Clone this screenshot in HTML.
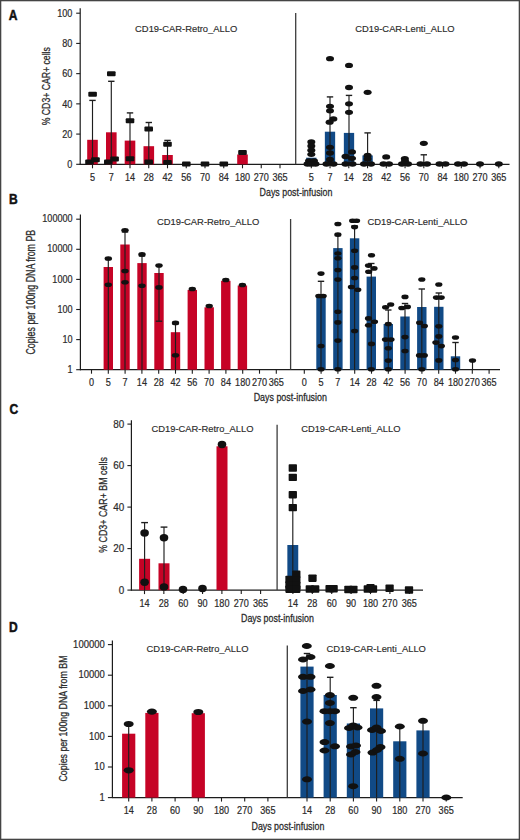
<!DOCTYPE html>
<html><head><meta charset="utf-8"><title>Figure</title>
<style>
html,body{margin:0;padding:0;background:#fff;}
body{width:520px;height:840px;overflow:hidden;}
svg{display:block;}
text{font-family:"Liberation Sans", sans-serif;}
</style></head>
<body>
<svg width="520" height="840" viewBox="0 0 520 840">
<rect x="0" y="0" width="520" height="840" fill="#fff"/>
<rect x="0.65" y="0.65" width="518.7" height="838.7" fill="none" stroke="#444" stroke-width="1.3"/>
<text x="8.80" y="19.80" font-size="14.5" text-anchor="start" font-weight="bold" fill="#111" textLength="8.7" lengthAdjust="spacingAndGlyphs" stroke="#111" stroke-width="0.5">A</text>
<line x1="80.20" y1="8.20" x2="80.20" y2="164.80" stroke="#1c1c1c" stroke-width="1.2"/>
<line x1="76.20" y1="164.30" x2="80.20" y2="164.30" stroke="#1c1c1c" stroke-width="1.1"/>
<text transform="translate(72.40,168.10) scale(0.91,1)" x="0" y="0" font-size="10.0" text-anchor="end" font-weight="normal" fill="#2a2a2a" stroke="#2a2a2a" stroke-width="0.2">0</text>
<line x1="76.20" y1="134.08" x2="80.20" y2="134.08" stroke="#1c1c1c" stroke-width="1.1"/>
<text transform="translate(72.40,137.88) scale(0.91,1)" x="0" y="0" font-size="10.0" text-anchor="end" font-weight="normal" fill="#2a2a2a" stroke="#2a2a2a" stroke-width="0.2">20</text>
<line x1="76.20" y1="103.86" x2="80.20" y2="103.86" stroke="#1c1c1c" stroke-width="1.1"/>
<text transform="translate(72.40,107.66) scale(0.91,1)" x="0" y="0" font-size="10.0" text-anchor="end" font-weight="normal" fill="#2a2a2a" stroke="#2a2a2a" stroke-width="0.2">40</text>
<line x1="76.20" y1="73.64" x2="80.20" y2="73.64" stroke="#1c1c1c" stroke-width="1.1"/>
<text transform="translate(72.40,77.44) scale(0.91,1)" x="0" y="0" font-size="10.0" text-anchor="end" font-weight="normal" fill="#2a2a2a" stroke="#2a2a2a" stroke-width="0.2">60</text>
<line x1="76.20" y1="43.42" x2="80.20" y2="43.42" stroke="#1c1c1c" stroke-width="1.1"/>
<text transform="translate(72.40,47.22) scale(0.91,1)" x="0" y="0" font-size="10.0" text-anchor="end" font-weight="normal" fill="#2a2a2a" stroke="#2a2a2a" stroke-width="0.2">80</text>
<line x1="76.20" y1="13.20" x2="80.20" y2="13.20" stroke="#1c1c1c" stroke-width="1.1"/>
<text transform="translate(72.40,17.00) scale(0.91,1)" x="0" y="0" font-size="10.0" text-anchor="end" font-weight="normal" fill="#2a2a2a" stroke="#2a2a2a" stroke-width="0.2">100</text>
<text transform="translate(49.60,86.20) rotate(-90)" x="0" y="0" font-size="11.3" text-anchor="middle" fill="#2a2a2a" textLength="78.2" lengthAdjust="spacingAndGlyphs" stroke="#2a2a2a" stroke-width="0.28">% CD3+ CAR+ cells</text>
<line x1="79.70" y1="164.30" x2="509.50" y2="164.30" stroke="#1c1c1c" stroke-width="1.2"/>
<line x1="92.50" y1="164.30" x2="92.50" y2="168.30" stroke="#1c1c1c" stroke-width="1.1"/>
<text transform="translate(92.50,181.30) scale(0.91,1)" x="0" y="0" font-size="10.0" text-anchor="middle" font-weight="normal" fill="#2a2a2a" stroke="#2a2a2a" stroke-width="0.2">5</text>
<line x1="111.25" y1="164.30" x2="111.25" y2="168.30" stroke="#1c1c1c" stroke-width="1.1"/>
<text transform="translate(111.25,181.30) scale(0.91,1)" x="0" y="0" font-size="10.0" text-anchor="middle" font-weight="normal" fill="#2a2a2a" stroke="#2a2a2a" stroke-width="0.2">7</text>
<line x1="130.00" y1="164.30" x2="130.00" y2="168.30" stroke="#1c1c1c" stroke-width="1.1"/>
<text transform="translate(130.00,181.30) scale(0.91,1)" x="0" y="0" font-size="10.0" text-anchor="middle" font-weight="normal" fill="#2a2a2a" stroke="#2a2a2a" stroke-width="0.2">14</text>
<line x1="148.75" y1="164.30" x2="148.75" y2="168.30" stroke="#1c1c1c" stroke-width="1.1"/>
<text transform="translate(148.75,181.30) scale(0.91,1)" x="0" y="0" font-size="10.0" text-anchor="middle" font-weight="normal" fill="#2a2a2a" stroke="#2a2a2a" stroke-width="0.2">28</text>
<line x1="167.50" y1="164.30" x2="167.50" y2="168.30" stroke="#1c1c1c" stroke-width="1.1"/>
<text transform="translate(167.50,181.30) scale(0.91,1)" x="0" y="0" font-size="10.0" text-anchor="middle" font-weight="normal" fill="#2a2a2a" stroke="#2a2a2a" stroke-width="0.2">42</text>
<line x1="186.25" y1="164.30" x2="186.25" y2="168.30" stroke="#1c1c1c" stroke-width="1.1"/>
<text transform="translate(186.25,181.30) scale(0.91,1)" x="0" y="0" font-size="10.0" text-anchor="middle" font-weight="normal" fill="#2a2a2a" stroke="#2a2a2a" stroke-width="0.2">56</text>
<line x1="205.00" y1="164.30" x2="205.00" y2="168.30" stroke="#1c1c1c" stroke-width="1.1"/>
<text transform="translate(205.00,181.30) scale(0.91,1)" x="0" y="0" font-size="10.0" text-anchor="middle" font-weight="normal" fill="#2a2a2a" stroke="#2a2a2a" stroke-width="0.2">70</text>
<line x1="223.75" y1="164.30" x2="223.75" y2="168.30" stroke="#1c1c1c" stroke-width="1.1"/>
<text transform="translate(223.75,181.30) scale(0.91,1)" x="0" y="0" font-size="10.0" text-anchor="middle" font-weight="normal" fill="#2a2a2a" stroke="#2a2a2a" stroke-width="0.2">84</text>
<line x1="242.50" y1="164.30" x2="242.50" y2="168.30" stroke="#1c1c1c" stroke-width="1.1"/>
<text transform="translate(242.50,181.30) scale(0.91,1)" x="0" y="0" font-size="10.0" text-anchor="middle" font-weight="normal" fill="#2a2a2a" stroke="#2a2a2a" stroke-width="0.2">180</text>
<line x1="261.25" y1="164.30" x2="261.25" y2="168.30" stroke="#1c1c1c" stroke-width="1.1"/>
<text transform="translate(261.25,181.30) scale(0.91,1)" x="0" y="0" font-size="10.0" text-anchor="middle" font-weight="normal" fill="#2a2a2a" stroke="#2a2a2a" stroke-width="0.2">270</text>
<line x1="280.00" y1="164.30" x2="280.00" y2="168.30" stroke="#1c1c1c" stroke-width="1.1"/>
<text transform="translate(280.00,181.30) scale(0.91,1)" x="0" y="0" font-size="10.0" text-anchor="middle" font-weight="normal" fill="#2a2a2a" stroke="#2a2a2a" stroke-width="0.2">365</text>
<line x1="311.30" y1="164.30" x2="311.30" y2="168.30" stroke="#1c1c1c" stroke-width="1.1"/>
<text transform="translate(311.30,181.30) scale(0.91,1)" x="0" y="0" font-size="10.0" text-anchor="middle" font-weight="normal" fill="#2a2a2a" stroke="#2a2a2a" stroke-width="0.2">5</text>
<line x1="330.05" y1="164.30" x2="330.05" y2="168.30" stroke="#1c1c1c" stroke-width="1.1"/>
<text transform="translate(330.05,181.30) scale(0.91,1)" x="0" y="0" font-size="10.0" text-anchor="middle" font-weight="normal" fill="#2a2a2a" stroke="#2a2a2a" stroke-width="0.2">7</text>
<line x1="348.80" y1="164.30" x2="348.80" y2="168.30" stroke="#1c1c1c" stroke-width="1.1"/>
<text transform="translate(348.80,181.30) scale(0.91,1)" x="0" y="0" font-size="10.0" text-anchor="middle" font-weight="normal" fill="#2a2a2a" stroke="#2a2a2a" stroke-width="0.2">14</text>
<line x1="367.55" y1="164.30" x2="367.55" y2="168.30" stroke="#1c1c1c" stroke-width="1.1"/>
<text transform="translate(367.55,181.30) scale(0.91,1)" x="0" y="0" font-size="10.0" text-anchor="middle" font-weight="normal" fill="#2a2a2a" stroke="#2a2a2a" stroke-width="0.2">28</text>
<line x1="386.30" y1="164.30" x2="386.30" y2="168.30" stroke="#1c1c1c" stroke-width="1.1"/>
<text transform="translate(386.30,181.30) scale(0.91,1)" x="0" y="0" font-size="10.0" text-anchor="middle" font-weight="normal" fill="#2a2a2a" stroke="#2a2a2a" stroke-width="0.2">42</text>
<line x1="405.05" y1="164.30" x2="405.05" y2="168.30" stroke="#1c1c1c" stroke-width="1.1"/>
<text transform="translate(405.05,181.30) scale(0.91,1)" x="0" y="0" font-size="10.0" text-anchor="middle" font-weight="normal" fill="#2a2a2a" stroke="#2a2a2a" stroke-width="0.2">56</text>
<line x1="423.80" y1="164.30" x2="423.80" y2="168.30" stroke="#1c1c1c" stroke-width="1.1"/>
<text transform="translate(423.80,181.30) scale(0.91,1)" x="0" y="0" font-size="10.0" text-anchor="middle" font-weight="normal" fill="#2a2a2a" stroke="#2a2a2a" stroke-width="0.2">70</text>
<line x1="442.55" y1="164.30" x2="442.55" y2="168.30" stroke="#1c1c1c" stroke-width="1.1"/>
<text transform="translate(442.55,181.30) scale(0.91,1)" x="0" y="0" font-size="10.0" text-anchor="middle" font-weight="normal" fill="#2a2a2a" stroke="#2a2a2a" stroke-width="0.2">84</text>
<line x1="461.30" y1="164.30" x2="461.30" y2="168.30" stroke="#1c1c1c" stroke-width="1.1"/>
<text transform="translate(461.30,181.30) scale(0.91,1)" x="0" y="0" font-size="10.0" text-anchor="middle" font-weight="normal" fill="#2a2a2a" stroke="#2a2a2a" stroke-width="0.2">180</text>
<line x1="480.05" y1="164.30" x2="480.05" y2="168.30" stroke="#1c1c1c" stroke-width="1.1"/>
<text transform="translate(480.05,181.30) scale(0.91,1)" x="0" y="0" font-size="10.0" text-anchor="middle" font-weight="normal" fill="#2a2a2a" stroke="#2a2a2a" stroke-width="0.2">270</text>
<line x1="498.80" y1="164.30" x2="498.80" y2="168.30" stroke="#1c1c1c" stroke-width="1.1"/>
<text transform="translate(498.80,181.30) scale(0.91,1)" x="0" y="0" font-size="10.0" text-anchor="middle" font-weight="normal" fill="#2a2a2a" stroke="#2a2a2a" stroke-width="0.2">365</text>
<line x1="295.70" y1="13.00" x2="295.70" y2="164.30" stroke="#3c3c3c" stroke-width="1.3"/>
<text x="186.20" y="32.30" font-size="9.7" text-anchor="middle" font-weight="normal" fill="#2a2a2a" textLength="102.2" lengthAdjust="spacingAndGlyphs" stroke="#2a2a2a" stroke-width="0.15">CD19-CAR-Retro_ALLO</text>
<text x="405.00" y="32.30" font-size="9.7" text-anchor="middle" font-weight="normal" fill="#2a2a2a" textLength="99.3" lengthAdjust="spacingAndGlyphs" stroke="#2a2a2a" stroke-width="0.15">CD19-CAR-Lenti_ALLO</text>
<text x="296.00" y="195.90" font-size="11.4" text-anchor="middle" font-weight="normal" fill="#2a2a2a" textLength="72.8" lengthAdjust="spacingAndGlyphs" stroke="#2a2a2a" stroke-width="0.28">Days post-infusion</text>
<rect x="87.20" y="139.80" width="10.60" height="24.50" fill="#c60326"/>
<rect x="106.00" y="132.30" width="10.60" height="32.00" fill="#c60326"/>
<rect x="124.70" y="140.60" width="10.60" height="23.70" fill="#c60326"/>
<rect x="143.50" y="146.20" width="10.60" height="18.10" fill="#c60326"/>
<rect x="162.20" y="155.00" width="10.60" height="9.30" fill="#c60326"/>
<rect x="237.20" y="154.50" width="10.60" height="9.80" fill="#c60326"/>
<line x1="92.50" y1="100.40" x2="92.50" y2="164.30" stroke="#1e1e1e" stroke-width="1.15"/>
<line x1="89.30" y1="100.40" x2="95.70" y2="100.40" stroke="#1e1e1e" stroke-width="1.38"/>
<line x1="111.30" y1="81.30" x2="111.30" y2="164.30" stroke="#1e1e1e" stroke-width="1.15"/>
<line x1="108.10" y1="81.30" x2="114.50" y2="81.30" stroke="#1e1e1e" stroke-width="1.38"/>
<line x1="130.00" y1="112.90" x2="130.00" y2="164.30" stroke="#1e1e1e" stroke-width="1.15"/>
<line x1="126.80" y1="112.90" x2="133.20" y2="112.90" stroke="#1e1e1e" stroke-width="1.38"/>
<line x1="148.80" y1="122.50" x2="148.80" y2="164.30" stroke="#1e1e1e" stroke-width="1.15"/>
<line x1="145.60" y1="122.50" x2="152.00" y2="122.50" stroke="#1e1e1e" stroke-width="1.38"/>
<line x1="167.50" y1="140.40" x2="167.50" y2="164.30" stroke="#1e1e1e" stroke-width="1.15"/>
<line x1="164.30" y1="140.40" x2="170.70" y2="140.40" stroke="#1e1e1e" stroke-width="1.38"/>
<rect x="88.30" y="91.80" width="8.6" height="5.0" rx="1.0" fill="#111"/>
<rect x="85.20" y="159.50" width="8.6" height="5.0" rx="1.0" fill="#111"/>
<rect x="91.20" y="157.30" width="8.6" height="5.0" rx="1.0" fill="#111"/>
<rect x="107.00" y="71.30" width="8.6" height="5.0" rx="1.0" fill="#111"/>
<rect x="104.00" y="159.50" width="8.6" height="5.0" rx="1.0" fill="#111"/>
<rect x="110.30" y="156.40" width="8.6" height="5.0" rx="1.0" fill="#111"/>
<rect x="125.70" y="118.30" width="8.6" height="5.0" rx="1.0" fill="#111"/>
<rect x="125.70" y="156.20" width="8.6" height="5.0" rx="1.0" fill="#111"/>
<rect x="144.40" y="126.50" width="8.6" height="5.0" rx="1.0" fill="#111"/>
<rect x="144.40" y="159.50" width="8.6" height="5.0" rx="1.0" fill="#111"/>
<rect x="163.20" y="141.70" width="8.6" height="5.0" rx="1.0" fill="#111"/>
<rect x="163.20" y="160.00" width="8.6" height="5.0" rx="1.0" fill="#111"/>
<rect x="182.00" y="161.50" width="8.6" height="5.0" rx="1.0" fill="#111"/>
<rect x="200.70" y="161.50" width="8.6" height="5.0" rx="1.0" fill="#111"/>
<rect x="219.50" y="161.50" width="8.6" height="5.0" rx="1.0" fill="#111"/>
<rect x="238.20" y="150.10" width="8.6" height="5.0" rx="1.0" fill="#111"/>
<rect x="306.15" y="157.70" width="10.30" height="6.60" fill="#114a86"/>
<rect x="324.85" y="131.70" width="10.30" height="32.60" fill="#114a86"/>
<rect x="343.85" y="132.90" width="10.30" height="31.40" fill="#114a86"/>
<rect x="362.45" y="155.40" width="10.30" height="8.90" fill="#114a86"/>
<rect x="418.65" y="162.00" width="10.30" height="2.30" fill="#114a86"/>
<line x1="330.00" y1="96.90" x2="330.00" y2="164.30" stroke="#1e1e1e" stroke-width="1.15"/>
<line x1="326.80" y1="96.90" x2="333.20" y2="96.90" stroke="#1e1e1e" stroke-width="1.38"/>
<line x1="349.00" y1="95.40" x2="349.00" y2="164.30" stroke="#1e1e1e" stroke-width="1.15"/>
<line x1="345.80" y1="95.40" x2="352.20" y2="95.40" stroke="#1e1e1e" stroke-width="1.38"/>
<line x1="367.60" y1="132.90" x2="367.60" y2="164.30" stroke="#1e1e1e" stroke-width="1.15"/>
<line x1="364.40" y1="132.90" x2="370.80" y2="132.90" stroke="#1e1e1e" stroke-width="1.38"/>
<line x1="423.80" y1="154.80" x2="423.80" y2="164.30" stroke="#1e1e1e" stroke-width="1.15"/>
<line x1="420.60" y1="154.80" x2="427.00" y2="154.80" stroke="#1e1e1e" stroke-width="1.38"/>
<ellipse cx="311.30" cy="142.00" rx="4.0" ry="2.65" fill="#111"/>
<ellipse cx="311.30" cy="146.00" rx="4.0" ry="2.65" fill="#111"/>
<ellipse cx="311.30" cy="150.20" rx="4.0" ry="2.65" fill="#111"/>
<ellipse cx="311.30" cy="154.30" rx="4.0" ry="2.65" fill="#111"/>
<ellipse cx="309.00" cy="160.80" rx="4.0" ry="2.65" fill="#111"/>
<ellipse cx="314.00" cy="160.80" rx="4.0" ry="2.65" fill="#111"/>
<ellipse cx="307.50" cy="164.00" rx="4.0" ry="2.65" fill="#111"/>
<ellipse cx="311.30" cy="164.00" rx="4.0" ry="2.65" fill="#111"/>
<ellipse cx="315.50" cy="164.00" rx="4.0" ry="2.65" fill="#111"/>
<ellipse cx="330.00" cy="58.70" rx="4.0" ry="2.65" fill="#111"/>
<ellipse cx="330.00" cy="106.30" rx="4.0" ry="2.65" fill="#111"/>
<ellipse cx="330.00" cy="110.80" rx="4.0" ry="2.65" fill="#111"/>
<ellipse cx="333.40" cy="119.00" rx="4.0" ry="2.65" fill="#111"/>
<ellipse cx="329.60" cy="122.20" rx="4.0" ry="2.65" fill="#111"/>
<ellipse cx="330.00" cy="147.30" rx="4.0" ry="2.65" fill="#111"/>
<ellipse cx="330.00" cy="153.00" rx="4.0" ry="2.65" fill="#111"/>
<ellipse cx="330.00" cy="159.40" rx="4.0" ry="2.65" fill="#111"/>
<ellipse cx="326.50" cy="164.00" rx="4.0" ry="2.65" fill="#111"/>
<ellipse cx="333.50" cy="164.00" rx="4.0" ry="2.65" fill="#111"/>
<ellipse cx="349.00" cy="65.40" rx="4.0" ry="2.65" fill="#111"/>
<ellipse cx="349.00" cy="87.50" rx="4.0" ry="2.65" fill="#111"/>
<ellipse cx="349.00" cy="103.80" rx="4.0" ry="2.65" fill="#111"/>
<ellipse cx="349.00" cy="112.30" rx="4.0" ry="2.65" fill="#111"/>
<ellipse cx="352.00" cy="151.90" rx="4.0" ry="2.65" fill="#111"/>
<ellipse cx="345.50" cy="156.50" rx="4.0" ry="2.65" fill="#111"/>
<ellipse cx="352.00" cy="158.30" rx="4.0" ry="2.65" fill="#111"/>
<ellipse cx="345.50" cy="164.00" rx="4.0" ry="2.65" fill="#111"/>
<ellipse cx="352.50" cy="164.00" rx="4.0" ry="2.65" fill="#111"/>
<ellipse cx="367.60" cy="92.30" rx="4.0" ry="2.65" fill="#111"/>
<ellipse cx="367.60" cy="155.40" rx="4.0" ry="2.65" fill="#111"/>
<ellipse cx="367.60" cy="159.00" rx="4.0" ry="2.65" fill="#111"/>
<ellipse cx="364.00" cy="164.00" rx="4.0" ry="2.65" fill="#111"/>
<ellipse cx="371.00" cy="164.00" rx="4.0" ry="2.65" fill="#111"/>
<ellipse cx="386.20" cy="156.90" rx="4.0" ry="2.65" fill="#111"/>
<ellipse cx="383.50" cy="164.00" rx="4.0" ry="2.65" fill="#111"/>
<ellipse cx="389.00" cy="164.00" rx="4.0" ry="2.65" fill="#111"/>
<ellipse cx="404.80" cy="158.60" rx="4.0" ry="2.65" fill="#111"/>
<ellipse cx="402.00" cy="164.00" rx="4.0" ry="2.65" fill="#111"/>
<ellipse cx="408.00" cy="164.00" rx="4.0" ry="2.65" fill="#111"/>
<ellipse cx="405.00" cy="161.00" rx="4.0" ry="2.65" fill="#111"/>
<ellipse cx="423.80" cy="143.30" rx="4.0" ry="2.65" fill="#111"/>
<ellipse cx="420.50" cy="164.00" rx="4.0" ry="2.65" fill="#111"/>
<ellipse cx="427.00" cy="164.00" rx="4.0" ry="2.65" fill="#111"/>
<ellipse cx="439.50" cy="164.00" rx="4.0" ry="2.65" fill="#111"/>
<ellipse cx="445.50" cy="164.00" rx="4.0" ry="2.65" fill="#111"/>
<ellipse cx="458.00" cy="164.00" rx="4.0" ry="2.65" fill="#111"/>
<ellipse cx="464.00" cy="164.00" rx="4.0" ry="2.65" fill="#111"/>
<ellipse cx="480.00" cy="164.00" rx="4.0" ry="2.65" fill="#111"/>
<ellipse cx="498.80" cy="164.00" rx="4.0" ry="2.65" fill="#111"/>
<text x="9.00" y="204.40" font-size="14.5" text-anchor="start" font-weight="bold" fill="#111" textLength="8.7" lengthAdjust="spacingAndGlyphs" stroke="#111" stroke-width="0.5">B</text>
<line x1="80.40" y1="214.60" x2="80.40" y2="370.20" stroke="#1c1c1c" stroke-width="1.2"/>
<line x1="76.20" y1="369.70" x2="80.40" y2="369.70" stroke="#1c1c1c" stroke-width="1.1"/>
<text transform="translate(72.60,372.80) scale(0.91,1)" x="0" y="0" font-size="10.0" text-anchor="end" font-weight="normal" fill="#2a2a2a" stroke="#2a2a2a" stroke-width="0.2">1</text>
<line x1="76.20" y1="339.60" x2="80.40" y2="339.60" stroke="#1c1c1c" stroke-width="1.1"/>
<text transform="translate(72.60,342.70) scale(0.91,1)" x="0" y="0" font-size="10.0" text-anchor="end" font-weight="normal" fill="#2a2a2a" stroke="#2a2a2a" stroke-width="0.2">10</text>
<line x1="76.20" y1="309.50" x2="80.40" y2="309.50" stroke="#1c1c1c" stroke-width="1.1"/>
<text transform="translate(72.60,312.60) scale(0.91,1)" x="0" y="0" font-size="10.0" text-anchor="end" font-weight="normal" fill="#2a2a2a" stroke="#2a2a2a" stroke-width="0.2">100</text>
<line x1="76.20" y1="279.40" x2="80.40" y2="279.40" stroke="#1c1c1c" stroke-width="1.1"/>
<text transform="translate(72.60,282.50) scale(0.91,1)" x="0" y="0" font-size="10.0" text-anchor="end" font-weight="normal" fill="#2a2a2a" stroke="#2a2a2a" stroke-width="0.2">1000</text>
<line x1="76.20" y1="249.30" x2="80.40" y2="249.30" stroke="#1c1c1c" stroke-width="1.1"/>
<text transform="translate(72.60,252.40) scale(0.91,1)" x="0" y="0" font-size="10.0" text-anchor="end" font-weight="normal" fill="#2a2a2a" stroke="#2a2a2a" stroke-width="0.2">10000</text>
<line x1="76.20" y1="219.20" x2="80.40" y2="219.20" stroke="#1c1c1c" stroke-width="1.1"/>
<text transform="translate(72.60,222.30) scale(0.91,1)" x="0" y="0" font-size="10.0" text-anchor="end" font-weight="normal" fill="#2a2a2a" stroke="#2a2a2a" stroke-width="0.2">100000</text>
<text transform="translate(35.00,292.20) rotate(-90)" x="0" y="0" font-size="12.2" text-anchor="middle" fill="#2a2a2a" textLength="124.8" lengthAdjust="spacingAndGlyphs" stroke="#2a2a2a" stroke-width="0.28">Copies per 100ng DNA from PB</text>
<line x1="79.90" y1="369.70" x2="500.00" y2="369.70" stroke="#1c1c1c" stroke-width="1.2"/>
<line x1="91.50" y1="369.70" x2="91.50" y2="373.70" stroke="#1c1c1c" stroke-width="1.1"/>
<text transform="translate(91.50,386.20) scale(0.91,1)" x="0" y="0" font-size="10.0" text-anchor="middle" font-weight="normal" fill="#2a2a2a" stroke="#2a2a2a" stroke-width="0.2">0</text>
<line x1="108.30" y1="369.70" x2="108.30" y2="373.70" stroke="#1c1c1c" stroke-width="1.1"/>
<text transform="translate(108.30,386.20) scale(0.91,1)" x="0" y="0" font-size="10.0" text-anchor="middle" font-weight="normal" fill="#2a2a2a" stroke="#2a2a2a" stroke-width="0.2">5</text>
<line x1="125.10" y1="369.70" x2="125.10" y2="373.70" stroke="#1c1c1c" stroke-width="1.1"/>
<text transform="translate(125.10,386.20) scale(0.91,1)" x="0" y="0" font-size="10.0" text-anchor="middle" font-weight="normal" fill="#2a2a2a" stroke="#2a2a2a" stroke-width="0.2">7</text>
<line x1="141.90" y1="369.70" x2="141.90" y2="373.70" stroke="#1c1c1c" stroke-width="1.1"/>
<text transform="translate(141.90,386.20) scale(0.91,1)" x="0" y="0" font-size="10.0" text-anchor="middle" font-weight="normal" fill="#2a2a2a" stroke="#2a2a2a" stroke-width="0.2">14</text>
<line x1="158.70" y1="369.70" x2="158.70" y2="373.70" stroke="#1c1c1c" stroke-width="1.1"/>
<text transform="translate(158.70,386.20) scale(0.91,1)" x="0" y="0" font-size="10.0" text-anchor="middle" font-weight="normal" fill="#2a2a2a" stroke="#2a2a2a" stroke-width="0.2">28</text>
<line x1="175.50" y1="369.70" x2="175.50" y2="373.70" stroke="#1c1c1c" stroke-width="1.1"/>
<text transform="translate(175.50,386.20) scale(0.91,1)" x="0" y="0" font-size="10.0" text-anchor="middle" font-weight="normal" fill="#2a2a2a" stroke="#2a2a2a" stroke-width="0.2">42</text>
<line x1="192.30" y1="369.70" x2="192.30" y2="373.70" stroke="#1c1c1c" stroke-width="1.1"/>
<text transform="translate(192.30,386.20) scale(0.91,1)" x="0" y="0" font-size="10.0" text-anchor="middle" font-weight="normal" fill="#2a2a2a" stroke="#2a2a2a" stroke-width="0.2">56</text>
<line x1="209.10" y1="369.70" x2="209.10" y2="373.70" stroke="#1c1c1c" stroke-width="1.1"/>
<text transform="translate(209.10,386.20) scale(0.91,1)" x="0" y="0" font-size="10.0" text-anchor="middle" font-weight="normal" fill="#2a2a2a" stroke="#2a2a2a" stroke-width="0.2">70</text>
<line x1="225.90" y1="369.70" x2="225.90" y2="373.70" stroke="#1c1c1c" stroke-width="1.1"/>
<text transform="translate(225.90,386.20) scale(0.91,1)" x="0" y="0" font-size="10.0" text-anchor="middle" font-weight="normal" fill="#2a2a2a" stroke="#2a2a2a" stroke-width="0.2">84</text>
<line x1="242.70" y1="369.70" x2="242.70" y2="373.70" stroke="#1c1c1c" stroke-width="1.1"/>
<text transform="translate(242.70,386.20) scale(0.91,1)" x="0" y="0" font-size="10.0" text-anchor="middle" font-weight="normal" fill="#2a2a2a" stroke="#2a2a2a" stroke-width="0.2">180</text>
<line x1="259.50" y1="369.70" x2="259.50" y2="373.70" stroke="#1c1c1c" stroke-width="1.1"/>
<text transform="translate(259.50,386.20) scale(0.91,1)" x="0" y="0" font-size="10.0" text-anchor="middle" font-weight="normal" fill="#2a2a2a" stroke="#2a2a2a" stroke-width="0.2">270</text>
<line x1="276.30" y1="369.70" x2="276.30" y2="373.70" stroke="#1c1c1c" stroke-width="1.1"/>
<text transform="translate(276.30,386.20) scale(0.91,1)" x="0" y="0" font-size="10.0" text-anchor="middle" font-weight="normal" fill="#2a2a2a" stroke="#2a2a2a" stroke-width="0.2">365</text>
<line x1="304.30" y1="369.70" x2="304.30" y2="373.70" stroke="#1c1c1c" stroke-width="1.1"/>
<text transform="translate(304.30,386.20) scale(0.91,1)" x="0" y="0" font-size="10.0" text-anchor="middle" font-weight="normal" fill="#2a2a2a" stroke="#2a2a2a" stroke-width="0.2">0</text>
<line x1="321.10" y1="369.70" x2="321.10" y2="373.70" stroke="#1c1c1c" stroke-width="1.1"/>
<text transform="translate(321.10,386.20) scale(0.91,1)" x="0" y="0" font-size="10.0" text-anchor="middle" font-weight="normal" fill="#2a2a2a" stroke="#2a2a2a" stroke-width="0.2">5</text>
<line x1="337.90" y1="369.70" x2="337.90" y2="373.70" stroke="#1c1c1c" stroke-width="1.1"/>
<text transform="translate(337.90,386.20) scale(0.91,1)" x="0" y="0" font-size="10.0" text-anchor="middle" font-weight="normal" fill="#2a2a2a" stroke="#2a2a2a" stroke-width="0.2">7</text>
<line x1="354.70" y1="369.70" x2="354.70" y2="373.70" stroke="#1c1c1c" stroke-width="1.1"/>
<text transform="translate(354.70,386.20) scale(0.91,1)" x="0" y="0" font-size="10.0" text-anchor="middle" font-weight="normal" fill="#2a2a2a" stroke="#2a2a2a" stroke-width="0.2">14</text>
<line x1="371.50" y1="369.70" x2="371.50" y2="373.70" stroke="#1c1c1c" stroke-width="1.1"/>
<text transform="translate(371.50,386.20) scale(0.91,1)" x="0" y="0" font-size="10.0" text-anchor="middle" font-weight="normal" fill="#2a2a2a" stroke="#2a2a2a" stroke-width="0.2">28</text>
<line x1="388.30" y1="369.70" x2="388.30" y2="373.70" stroke="#1c1c1c" stroke-width="1.1"/>
<text transform="translate(388.30,386.20) scale(0.91,1)" x="0" y="0" font-size="10.0" text-anchor="middle" font-weight="normal" fill="#2a2a2a" stroke="#2a2a2a" stroke-width="0.2">42</text>
<line x1="405.10" y1="369.70" x2="405.10" y2="373.70" stroke="#1c1c1c" stroke-width="1.1"/>
<text transform="translate(405.10,386.20) scale(0.91,1)" x="0" y="0" font-size="10.0" text-anchor="middle" font-weight="normal" fill="#2a2a2a" stroke="#2a2a2a" stroke-width="0.2">56</text>
<line x1="421.90" y1="369.70" x2="421.90" y2="373.70" stroke="#1c1c1c" stroke-width="1.1"/>
<text transform="translate(421.90,386.20) scale(0.91,1)" x="0" y="0" font-size="10.0" text-anchor="middle" font-weight="normal" fill="#2a2a2a" stroke="#2a2a2a" stroke-width="0.2">70</text>
<line x1="438.70" y1="369.70" x2="438.70" y2="373.70" stroke="#1c1c1c" stroke-width="1.1"/>
<text transform="translate(438.70,386.20) scale(0.91,1)" x="0" y="0" font-size="10.0" text-anchor="middle" font-weight="normal" fill="#2a2a2a" stroke="#2a2a2a" stroke-width="0.2">84</text>
<line x1="455.50" y1="369.70" x2="455.50" y2="373.70" stroke="#1c1c1c" stroke-width="1.1"/>
<text transform="translate(455.50,386.20) scale(0.91,1)" x="0" y="0" font-size="10.0" text-anchor="middle" font-weight="normal" fill="#2a2a2a" stroke="#2a2a2a" stroke-width="0.2">180</text>
<line x1="472.30" y1="369.70" x2="472.30" y2="373.70" stroke="#1c1c1c" stroke-width="1.1"/>
<text transform="translate(472.30,386.20) scale(0.91,1)" x="0" y="0" font-size="10.0" text-anchor="middle" font-weight="normal" fill="#2a2a2a" stroke="#2a2a2a" stroke-width="0.2">270</text>
<line x1="489.10" y1="369.70" x2="489.10" y2="373.70" stroke="#1c1c1c" stroke-width="1.1"/>
<text transform="translate(489.10,386.20) scale(0.91,1)" x="0" y="0" font-size="10.0" text-anchor="middle" font-weight="normal" fill="#2a2a2a" stroke="#2a2a2a" stroke-width="0.2">365</text>
<line x1="290.60" y1="219.00" x2="290.60" y2="369.70" stroke="#3c3c3c" stroke-width="1.3"/>
<text x="208.10" y="224.60" font-size="9.7" text-anchor="middle" font-weight="normal" fill="#2a2a2a" textLength="102.3" lengthAdjust="spacingAndGlyphs" stroke="#2a2a2a" stroke-width="0.15">CD19-CAR-Retro_ALLO</text>
<text x="417.40" y="224.60" font-size="9.7" text-anchor="middle" font-weight="normal" fill="#2a2a2a" textLength="100.0" lengthAdjust="spacingAndGlyphs" stroke="#2a2a2a" stroke-width="0.15">CD19-CAR-Lenti_ALLO</text>
<text x="290.30" y="401.00" font-size="11.4" text-anchor="middle" font-weight="normal" fill="#2a2a2a" textLength="73.3" lengthAdjust="spacingAndGlyphs" stroke="#2a2a2a" stroke-width="0.28">Days post-infusion</text>
<rect x="103.60" y="267.00" width="9.40" height="102.70" fill="#c60326"/>
<rect x="120.30" y="244.50" width="9.40" height="125.20" fill="#c60326"/>
<rect x="137.30" y="263.10" width="9.40" height="106.60" fill="#c60326"/>
<rect x="154.30" y="273.00" width="9.40" height="96.70" fill="#c60326"/>
<rect x="170.80" y="332.20" width="9.40" height="37.50" fill="#c60326"/>
<rect x="187.60" y="289.90" width="9.40" height="79.80" fill="#c60326"/>
<rect x="204.50" y="307.30" width="9.40" height="62.40" fill="#c60326"/>
<rect x="221.10" y="280.80" width="9.40" height="88.90" fill="#c60326"/>
<rect x="237.70" y="285.50" width="9.40" height="84.20" fill="#c60326"/>
<line x1="108.30" y1="259.50" x2="108.30" y2="369.70" stroke="#1e1e1e" stroke-width="1.15"/>
<line x1="105.10" y1="259.50" x2="111.50" y2="259.50" stroke="#1e1e1e" stroke-width="1.38"/>
<line x1="125.00" y1="232.00" x2="125.00" y2="369.70" stroke="#1e1e1e" stroke-width="1.15"/>
<line x1="121.80" y1="232.00" x2="128.20" y2="232.00" stroke="#1e1e1e" stroke-width="1.38"/>
<line x1="142.00" y1="256.00" x2="142.00" y2="369.70" stroke="#1e1e1e" stroke-width="1.15"/>
<line x1="138.80" y1="256.00" x2="145.20" y2="256.00" stroke="#1e1e1e" stroke-width="1.38"/>
<line x1="159.00" y1="265.50" x2="159.00" y2="321.20" stroke="#1e1e1e" stroke-width="1.15"/>
<line x1="155.80" y1="265.50" x2="162.20" y2="265.50" stroke="#1e1e1e" stroke-width="1.38"/>
<line x1="155.80" y1="321.20" x2="162.20" y2="321.20" stroke="#1e1e1e" stroke-width="1.38"/>
<line x1="175.50" y1="324.00" x2="175.50" y2="369.70" stroke="#1e1e1e" stroke-width="1.15"/>
<line x1="172.30" y1="324.00" x2="178.70" y2="324.00" stroke="#1e1e1e" stroke-width="1.38"/>
<ellipse cx="108.30" cy="258.50" rx="3.7" ry="2.3" fill="#111"/>
<ellipse cx="108.30" cy="284.80" rx="3.7" ry="2.3" fill="#111"/>
<ellipse cx="125.00" cy="230.20" rx="3.7" ry="2.3" fill="#111"/>
<ellipse cx="125.00" cy="271.00" rx="3.7" ry="2.3" fill="#111"/>
<ellipse cx="125.00" cy="282.30" rx="3.7" ry="2.3" fill="#111"/>
<ellipse cx="142.00" cy="254.40" rx="3.7" ry="2.3" fill="#111"/>
<ellipse cx="142.00" cy="285.80" rx="3.7" ry="2.3" fill="#111"/>
<ellipse cx="159.00" cy="265.50" rx="3.7" ry="2.3" fill="#111"/>
<ellipse cx="159.00" cy="287.40" rx="3.7" ry="2.3" fill="#111"/>
<ellipse cx="175.50" cy="322.90" rx="3.7" ry="2.3" fill="#111"/>
<ellipse cx="175.50" cy="355.30" rx="3.7" ry="2.3" fill="#111"/>
<ellipse cx="192.30" cy="289.00" rx="3.7" ry="2.3" fill="#111"/>
<ellipse cx="209.20" cy="306.00" rx="3.7" ry="2.3" fill="#111"/>
<ellipse cx="225.80" cy="280.00" rx="3.7" ry="2.3" fill="#111"/>
<ellipse cx="242.40" cy="285.00" rx="3.7" ry="2.3" fill="#111"/>
<rect x="316.30" y="296.70" width="9.40" height="73.00" fill="#114a86"/>
<line x1="321.00" y1="281.30" x2="321.00" y2="369.70" stroke="#1e1e1e" stroke-width="1.15"/>
<line x1="317.80" y1="281.30" x2="324.20" y2="281.30" stroke="#1e1e1e" stroke-width="1.38"/>
<rect x="333.20" y="248.10" width="9.40" height="121.60" fill="#114a86"/>
<line x1="337.90" y1="235.70" x2="337.90" y2="369.70" stroke="#1e1e1e" stroke-width="1.15"/>
<line x1="334.70" y1="235.70" x2="341.10" y2="235.70" stroke="#1e1e1e" stroke-width="1.38"/>
<rect x="349.90" y="238.30" width="9.40" height="131.40" fill="#114a86"/>
<line x1="354.60" y1="226.00" x2="354.60" y2="369.70" stroke="#1e1e1e" stroke-width="1.15"/>
<line x1="351.40" y1="226.00" x2="357.80" y2="226.00" stroke="#1e1e1e" stroke-width="1.38"/>
<rect x="366.60" y="276.60" width="9.40" height="93.10" fill="#114a86"/>
<line x1="371.30" y1="263.50" x2="371.30" y2="369.70" stroke="#1e1e1e" stroke-width="1.15"/>
<line x1="368.10" y1="263.50" x2="374.50" y2="263.50" stroke="#1e1e1e" stroke-width="1.38"/>
<rect x="383.60" y="324.00" width="9.40" height="45.70" fill="#114a86"/>
<line x1="388.30" y1="310.00" x2="388.30" y2="369.70" stroke="#1e1e1e" stroke-width="1.15"/>
<line x1="385.10" y1="310.00" x2="391.50" y2="310.00" stroke="#1e1e1e" stroke-width="1.38"/>
<rect x="400.30" y="316.50" width="9.40" height="53.20" fill="#114a86"/>
<line x1="405.00" y1="303.50" x2="405.00" y2="369.70" stroke="#1e1e1e" stroke-width="1.15"/>
<line x1="401.80" y1="303.50" x2="408.20" y2="303.50" stroke="#1e1e1e" stroke-width="1.38"/>
<rect x="417.10" y="307.00" width="9.40" height="62.70" fill="#114a86"/>
<line x1="421.80" y1="289.00" x2="421.80" y2="369.70" stroke="#1e1e1e" stroke-width="1.15"/>
<line x1="418.60" y1="289.00" x2="425.00" y2="289.00" stroke="#1e1e1e" stroke-width="1.38"/>
<rect x="434.10" y="306.80" width="9.40" height="62.90" fill="#114a86"/>
<line x1="438.80" y1="293.00" x2="438.80" y2="369.70" stroke="#1e1e1e" stroke-width="1.15"/>
<line x1="435.60" y1="293.00" x2="442.00" y2="293.00" stroke="#1e1e1e" stroke-width="1.38"/>
<rect x="450.80" y="356.30" width="9.40" height="13.40" fill="#114a86"/>
<line x1="455.50" y1="342.50" x2="455.50" y2="369.70" stroke="#1e1e1e" stroke-width="1.15"/>
<line x1="452.30" y1="342.50" x2="458.70" y2="342.50" stroke="#1e1e1e" stroke-width="1.38"/>
<line x1="472.50" y1="360.50" x2="472.50" y2="369.70" stroke="#1e1e1e" stroke-width="1.15"/>
<ellipse cx="321.00" cy="273.60" rx="3.6" ry="2.3" fill="#111"/>
<ellipse cx="318.80" cy="296.00" rx="3.6" ry="2.3" fill="#111"/>
<ellipse cx="323.20" cy="296.00" rx="3.6" ry="2.3" fill="#111"/>
<ellipse cx="321.00" cy="346.00" rx="3.6" ry="2.3" fill="#111"/>
<ellipse cx="321.00" cy="369.20" rx="3.6" ry="2.3" fill="#111"/>
<ellipse cx="337.90" cy="224.00" rx="3.6" ry="2.3" fill="#111"/>
<ellipse cx="337.90" cy="234.60" rx="3.6" ry="2.3" fill="#111"/>
<ellipse cx="337.90" cy="253.50" rx="3.6" ry="2.3" fill="#111"/>
<ellipse cx="337.90" cy="258.20" rx="3.6" ry="2.3" fill="#111"/>
<ellipse cx="337.90" cy="270.00" rx="3.6" ry="2.3" fill="#111"/>
<ellipse cx="337.90" cy="279.60" rx="3.6" ry="2.3" fill="#111"/>
<ellipse cx="337.90" cy="311.70" rx="3.6" ry="2.3" fill="#111"/>
<ellipse cx="337.90" cy="322.40" rx="3.6" ry="2.3" fill="#111"/>
<ellipse cx="337.90" cy="340.60" rx="3.6" ry="2.3" fill="#111"/>
<ellipse cx="337.90" cy="369.20" rx="3.6" ry="2.3" fill="#111"/>
<ellipse cx="352.60" cy="220.70" rx="3.6" ry="2.3" fill="#111"/>
<ellipse cx="356.60" cy="220.70" rx="3.6" ry="2.3" fill="#111"/>
<ellipse cx="354.60" cy="227.10" rx="3.6" ry="2.3" fill="#111"/>
<ellipse cx="354.60" cy="250.70" rx="3.6" ry="2.3" fill="#111"/>
<ellipse cx="354.60" cy="267.40" rx="3.6" ry="2.3" fill="#111"/>
<ellipse cx="354.60" cy="278.00" rx="3.6" ry="2.3" fill="#111"/>
<ellipse cx="351.40" cy="287.00" rx="3.6" ry="2.3" fill="#111"/>
<ellipse cx="357.80" cy="289.70" rx="3.6" ry="2.3" fill="#111"/>
<ellipse cx="354.60" cy="331.00" rx="3.6" ry="2.3" fill="#111"/>
<ellipse cx="371.50" cy="255.30" rx="3.6" ry="2.3" fill="#111"/>
<ellipse cx="368.50" cy="265.60" rx="3.6" ry="2.3" fill="#111"/>
<ellipse cx="374.00" cy="268.40" rx="3.6" ry="2.3" fill="#111"/>
<ellipse cx="368.70" cy="271.70" rx="3.6" ry="2.3" fill="#111"/>
<ellipse cx="368.50" cy="318.40" rx="3.6" ry="2.3" fill="#111"/>
<ellipse cx="374.50" cy="321.80" rx="3.6" ry="2.3" fill="#111"/>
<ellipse cx="368.50" cy="325.30" rx="3.6" ry="2.3" fill="#111"/>
<ellipse cx="371.50" cy="343.90" rx="3.6" ry="2.3" fill="#111"/>
<ellipse cx="371.30" cy="369.20" rx="3.6" ry="2.3" fill="#111"/>
<ellipse cx="385.60" cy="307.30" rx="3.6" ry="2.3" fill="#111"/>
<ellipse cx="390.70" cy="304.50" rx="3.6" ry="2.3" fill="#111"/>
<ellipse cx="388.30" cy="324.00" rx="3.6" ry="2.3" fill="#111"/>
<ellipse cx="385.50" cy="339.60" rx="3.6" ry="2.3" fill="#111"/>
<ellipse cx="391.00" cy="339.60" rx="3.6" ry="2.3" fill="#111"/>
<ellipse cx="388.30" cy="348.20" rx="3.6" ry="2.3" fill="#111"/>
<ellipse cx="388.30" cy="360.60" rx="3.6" ry="2.3" fill="#111"/>
<ellipse cx="388.30" cy="369.20" rx="3.6" ry="2.3" fill="#111"/>
<ellipse cx="405.00" cy="296.90" rx="3.6" ry="2.3" fill="#111"/>
<ellipse cx="401.80" cy="308.00" rx="3.6" ry="2.3" fill="#111"/>
<ellipse cx="407.40" cy="306.90" rx="3.6" ry="2.3" fill="#111"/>
<ellipse cx="405.00" cy="337.10" rx="3.6" ry="2.3" fill="#111"/>
<ellipse cx="405.00" cy="351.00" rx="3.6" ry="2.3" fill="#111"/>
<ellipse cx="421.80" cy="279.50" rx="3.6" ry="2.3" fill="#111"/>
<ellipse cx="419.60" cy="322.80" rx="3.6" ry="2.3" fill="#111"/>
<ellipse cx="424.40" cy="326.00" rx="3.6" ry="2.3" fill="#111"/>
<ellipse cx="419.50" cy="355.40" rx="3.6" ry="2.3" fill="#111"/>
<ellipse cx="424.30" cy="355.40" rx="3.6" ry="2.3" fill="#111"/>
<ellipse cx="421.80" cy="369.20" rx="3.6" ry="2.3" fill="#111"/>
<ellipse cx="438.80" cy="284.50" rx="3.6" ry="2.3" fill="#111"/>
<ellipse cx="436.50" cy="297.60" rx="3.6" ry="2.3" fill="#111"/>
<ellipse cx="441.20" cy="297.60" rx="3.6" ry="2.3" fill="#111"/>
<ellipse cx="438.80" cy="326.30" rx="3.6" ry="2.3" fill="#111"/>
<ellipse cx="438.80" cy="336.40" rx="3.6" ry="2.3" fill="#111"/>
<ellipse cx="435.90" cy="342.60" rx="3.6" ry="2.3" fill="#111"/>
<ellipse cx="441.40" cy="346.10" rx="3.6" ry="2.3" fill="#111"/>
<ellipse cx="438.80" cy="360.40" rx="3.6" ry="2.3" fill="#111"/>
<ellipse cx="455.50" cy="337.50" rx="3.6" ry="2.3" fill="#111"/>
<ellipse cx="455.50" cy="360.00" rx="3.6" ry="2.3" fill="#111"/>
<ellipse cx="455.50" cy="369.20" rx="3.6" ry="2.3" fill="#111"/>
<ellipse cx="472.50" cy="360.50" rx="3.6" ry="2.3" fill="#111"/>
<text x="9.40" y="413.80" font-size="14.5" text-anchor="start" font-weight="bold" fill="#111" textLength="8.7" lengthAdjust="spacingAndGlyphs" stroke="#111" stroke-width="0.5">C</text>
<line x1="131.40" y1="420.20" x2="131.40" y2="590.60" stroke="#1c1c1c" stroke-width="1.2"/>
<line x1="127.40" y1="590.10" x2="131.40" y2="590.10" stroke="#1c1c1c" stroke-width="1.1"/>
<text transform="translate(124.20,593.50) scale(0.95,1)" x="0" y="0" font-size="10.4" text-anchor="end" font-weight="normal" fill="#2a2a2a" stroke="#2a2a2a" stroke-width="0.2">0</text>
<line x1="127.40" y1="548.60" x2="131.40" y2="548.60" stroke="#1c1c1c" stroke-width="1.1"/>
<text transform="translate(124.20,552.00) scale(0.95,1)" x="0" y="0" font-size="10.4" text-anchor="end" font-weight="normal" fill="#2a2a2a" stroke="#2a2a2a" stroke-width="0.2">20</text>
<line x1="127.40" y1="507.10" x2="131.40" y2="507.10" stroke="#1c1c1c" stroke-width="1.1"/>
<text transform="translate(124.20,510.50) scale(0.95,1)" x="0" y="0" font-size="10.4" text-anchor="end" font-weight="normal" fill="#2a2a2a" stroke="#2a2a2a" stroke-width="0.2">40</text>
<line x1="127.40" y1="465.60" x2="131.40" y2="465.60" stroke="#1c1c1c" stroke-width="1.1"/>
<text transform="translate(124.20,469.00) scale(0.95,1)" x="0" y="0" font-size="10.4" text-anchor="end" font-weight="normal" fill="#2a2a2a" stroke="#2a2a2a" stroke-width="0.2">60</text>
<line x1="127.40" y1="424.10" x2="131.40" y2="424.10" stroke="#1c1c1c" stroke-width="1.1"/>
<text transform="translate(124.20,427.50) scale(0.95,1)" x="0" y="0" font-size="10.4" text-anchor="end" font-weight="normal" fill="#2a2a2a" stroke="#2a2a2a" stroke-width="0.2">80</text>
<text transform="translate(106.70,505.00) rotate(-90)" x="0" y="0" font-size="11.5" text-anchor="middle" fill="#2a2a2a" textLength="95.7" lengthAdjust="spacingAndGlyphs" stroke="#2a2a2a" stroke-width="0.28">% CD3+ CAR+ BM cells</text>
<line x1="130.90" y1="590.10" x2="423.00" y2="590.10" stroke="#1c1c1c" stroke-width="1.2"/>
<line x1="144.50" y1="590.10" x2="144.50" y2="594.10" stroke="#1c1c1c" stroke-width="1.1"/>
<text transform="translate(144.50,607.00) scale(0.91,1)" x="0" y="0" font-size="10.0" text-anchor="middle" font-weight="normal" fill="#2a2a2a" stroke="#2a2a2a" stroke-width="0.2">14</text>
<line x1="163.85" y1="590.10" x2="163.85" y2="594.10" stroke="#1c1c1c" stroke-width="1.1"/>
<text transform="translate(163.85,607.00) scale(0.91,1)" x="0" y="0" font-size="10.0" text-anchor="middle" font-weight="normal" fill="#2a2a2a" stroke="#2a2a2a" stroke-width="0.2">28</text>
<line x1="183.20" y1="590.10" x2="183.20" y2="594.10" stroke="#1c1c1c" stroke-width="1.1"/>
<text transform="translate(183.20,607.00) scale(0.91,1)" x="0" y="0" font-size="10.0" text-anchor="middle" font-weight="normal" fill="#2a2a2a" stroke="#2a2a2a" stroke-width="0.2">60</text>
<line x1="202.55" y1="590.10" x2="202.55" y2="594.10" stroke="#1c1c1c" stroke-width="1.1"/>
<text transform="translate(202.55,607.00) scale(0.91,1)" x="0" y="0" font-size="10.0" text-anchor="middle" font-weight="normal" fill="#2a2a2a" stroke="#2a2a2a" stroke-width="0.2">90</text>
<line x1="221.90" y1="590.10" x2="221.90" y2="594.10" stroke="#1c1c1c" stroke-width="1.1"/>
<text transform="translate(221.90,607.00) scale(0.91,1)" x="0" y="0" font-size="10.0" text-anchor="middle" font-weight="normal" fill="#2a2a2a" stroke="#2a2a2a" stroke-width="0.2">180</text>
<line x1="241.25" y1="590.10" x2="241.25" y2="594.10" stroke="#1c1c1c" stroke-width="1.1"/>
<text transform="translate(241.25,607.00) scale(0.91,1)" x="0" y="0" font-size="10.0" text-anchor="middle" font-weight="normal" fill="#2a2a2a" stroke="#2a2a2a" stroke-width="0.2">270</text>
<line x1="260.60" y1="590.10" x2="260.60" y2="594.10" stroke="#1c1c1c" stroke-width="1.1"/>
<text transform="translate(260.60,607.00) scale(0.91,1)" x="0" y="0" font-size="10.0" text-anchor="middle" font-weight="normal" fill="#2a2a2a" stroke="#2a2a2a" stroke-width="0.2">365</text>
<line x1="292.90" y1="590.10" x2="292.90" y2="594.10" stroke="#1c1c1c" stroke-width="1.1"/>
<text transform="translate(292.90,607.00) scale(0.91,1)" x="0" y="0" font-size="10.0" text-anchor="middle" font-weight="normal" fill="#2a2a2a" stroke="#2a2a2a" stroke-width="0.2">14</text>
<line x1="312.30" y1="590.10" x2="312.30" y2="594.10" stroke="#1c1c1c" stroke-width="1.1"/>
<text transform="translate(312.30,607.00) scale(0.91,1)" x="0" y="0" font-size="10.0" text-anchor="middle" font-weight="normal" fill="#2a2a2a" stroke="#2a2a2a" stroke-width="0.2">28</text>
<line x1="331.70" y1="590.10" x2="331.70" y2="594.10" stroke="#1c1c1c" stroke-width="1.1"/>
<text transform="translate(331.70,607.00) scale(0.91,1)" x="0" y="0" font-size="10.0" text-anchor="middle" font-weight="normal" fill="#2a2a2a" stroke="#2a2a2a" stroke-width="0.2">60</text>
<line x1="351.10" y1="590.10" x2="351.10" y2="594.10" stroke="#1c1c1c" stroke-width="1.1"/>
<text transform="translate(351.10,607.00) scale(0.91,1)" x="0" y="0" font-size="10.0" text-anchor="middle" font-weight="normal" fill="#2a2a2a" stroke="#2a2a2a" stroke-width="0.2">90</text>
<line x1="370.50" y1="590.10" x2="370.50" y2="594.10" stroke="#1c1c1c" stroke-width="1.1"/>
<text transform="translate(370.50,607.00) scale(0.91,1)" x="0" y="0" font-size="10.0" text-anchor="middle" font-weight="normal" fill="#2a2a2a" stroke="#2a2a2a" stroke-width="0.2">180</text>
<line x1="389.90" y1="590.10" x2="389.90" y2="594.10" stroke="#1c1c1c" stroke-width="1.1"/>
<text transform="translate(389.90,607.00) scale(0.91,1)" x="0" y="0" font-size="10.0" text-anchor="middle" font-weight="normal" fill="#2a2a2a" stroke="#2a2a2a" stroke-width="0.2">270</text>
<line x1="409.30" y1="590.10" x2="409.30" y2="594.10" stroke="#1c1c1c" stroke-width="1.1"/>
<text transform="translate(409.30,607.00) scale(0.91,1)" x="0" y="0" font-size="10.0" text-anchor="middle" font-weight="normal" fill="#2a2a2a" stroke="#2a2a2a" stroke-width="0.2">365</text>
<line x1="277.10" y1="424.70" x2="277.10" y2="590.10" stroke="#3c3c3c" stroke-width="1.3"/>
<text x="202.50" y="431.60" font-size="9.7" text-anchor="middle" font-weight="normal" fill="#2a2a2a" textLength="102.1" lengthAdjust="spacingAndGlyphs" stroke="#2a2a2a" stroke-width="0.15">CD19-CAR-Retro_ALLO</text>
<text x="350.80" y="431.60" font-size="9.7" text-anchor="middle" font-weight="normal" fill="#2a2a2a" textLength="99.3" lengthAdjust="spacingAndGlyphs" stroke="#2a2a2a" stroke-width="0.15">CD19-CAR-Lenti_ALLO</text>
<text x="277.40" y="622.30" font-size="11.4" text-anchor="middle" font-weight="normal" fill="#2a2a2a" textLength="72.8" lengthAdjust="spacingAndGlyphs" stroke="#2a2a2a" stroke-width="0.28">Days post-infusion</text>
<rect x="139.10" y="558.80" width="11.00" height="31.30" fill="#c60326"/>
<rect x="158.50" y="563.30" width="11.00" height="26.80" fill="#c60326"/>
<rect x="216.50" y="446.30" width="11.00" height="143.80" fill="#c60326"/>
<line x1="144.60" y1="522.60" x2="144.60" y2="590.10" stroke="#1e1e1e" stroke-width="1.15"/>
<line x1="141.20" y1="522.60" x2="148.00" y2="522.60" stroke="#1e1e1e" stroke-width="1.38"/>
<line x1="164.00" y1="527.10" x2="164.00" y2="590.10" stroke="#1e1e1e" stroke-width="1.15"/>
<line x1="160.60" y1="527.10" x2="167.40" y2="527.10" stroke="#1e1e1e" stroke-width="1.38"/>
<ellipse cx="144.60" cy="533.00" rx="4.3" ry="3.7" fill="#111"/>
<ellipse cx="144.60" cy="582.30" rx="4.3" ry="3.7" fill="#111"/>
<ellipse cx="164.00" cy="537.80" rx="4.3" ry="3.7" fill="#111"/>
<ellipse cx="164.00" cy="586.90" rx="4.3" ry="3.7" fill="#111"/>
<ellipse cx="183.00" cy="589.50" rx="4.3" ry="3.7" fill="#111"/>
<ellipse cx="202.50" cy="588.50" rx="4.3" ry="3.7" fill="#111"/>
<ellipse cx="222.00" cy="444.50" rx="4.3" ry="3.7" fill="#111"/>
<rect x="287.35" y="545.00" width="10.90" height="45.10" fill="#114a86"/>
<line x1="292.80" y1="496.00" x2="292.80" y2="590.10" stroke="#1e1e1e" stroke-width="1.15"/>
<line x1="292.75" y1="496.00" x2="292.85" y2="496.00" stroke="#1e1e1e" stroke-width="1.38"/>
<rect x="288.65" y="464.30" width="8.3" height="7.4" rx="0.8" fill="#111"/>
<rect x="288.65" y="473.70" width="8.3" height="7.4" rx="0.8" fill="#111"/>
<rect x="288.65" y="491.00" width="8.3" height="7.4" rx="0.8" fill="#111"/>
<rect x="288.65" y="503.90" width="8.3" height="7.4" rx="0.8" fill="#111"/>
<rect x="285.35" y="575.80" width="8.3" height="7.4" rx="0.8" fill="#111"/>
<rect x="292.15" y="570.60" width="8.3" height="7.4" rx="0.8" fill="#111"/>
<rect x="292.15" y="576.30" width="8.3" height="7.4" rx="0.8" fill="#111"/>
<rect x="285.35" y="581.30" width="8.3" height="7.4" rx="0.8" fill="#111"/>
<rect x="292.15" y="581.80" width="8.3" height="7.4" rx="0.8" fill="#111"/>
<rect x="285.35" y="585.50" width="8.3" height="7.4" rx="0.8" fill="#111"/>
<rect x="292.15" y="585.50" width="8.3" height="7.4" rx="0.8" fill="#111"/>
<rect x="308.35" y="574.50" width="8.3" height="7.4" rx="0.8" fill="#111"/>
<rect x="305.65" y="585.30" width="8.3" height="7.4" rx="0.8" fill="#111"/>
<rect x="311.05" y="585.30" width="8.3" height="7.4" rx="0.8" fill="#111"/>
<rect x="325.45" y="585.10" width="8.3" height="7.4" rx="0.8" fill="#111"/>
<rect x="329.45" y="585.10" width="8.3" height="7.4" rx="0.8" fill="#111"/>
<rect x="344.25" y="585.80" width="8.3" height="7.4" rx="0.8" fill="#111"/>
<rect x="349.25" y="585.80" width="8.3" height="7.4" rx="0.8" fill="#111"/>
<rect x="363.65" y="585.30" width="8.3" height="7.4" rx="0.8" fill="#111"/>
<rect x="368.85" y="585.30" width="8.3" height="7.4" rx="0.8" fill="#111"/>
<rect x="366.35" y="584.10" width="8.3" height="7.4" rx="0.8" fill="#111"/>
<rect x="385.45" y="584.60" width="8.3" height="7.4" rx="0.8" fill="#111"/>
<rect x="404.85" y="586.30" width="8.3" height="7.4" rx="0.8" fill="#111"/>
<text x="9.00" y="632.30" font-size="14.5" text-anchor="start" font-weight="bold" fill="#111" textLength="8.7" lengthAdjust="spacingAndGlyphs" stroke="#111" stroke-width="0.5">D</text>
<line x1="112.40" y1="640.60" x2="112.40" y2="798.10" stroke="#1c1c1c" stroke-width="1.2"/>
<line x1="107.90" y1="797.60" x2="112.40" y2="797.60" stroke="#1c1c1c" stroke-width="1.1"/>
<text transform="translate(104.80,800.80) scale(0.95,1)" x="0" y="0" font-size="10.0" text-anchor="end" font-weight="normal" fill="#2a2a2a" stroke="#2a2a2a" stroke-width="0.2">1</text>
<line x1="107.90" y1="767.00" x2="112.40" y2="767.00" stroke="#1c1c1c" stroke-width="1.1"/>
<text transform="translate(104.80,770.20) scale(0.95,1)" x="0" y="0" font-size="10.0" text-anchor="end" font-weight="normal" fill="#2a2a2a" stroke="#2a2a2a" stroke-width="0.2">10</text>
<line x1="107.90" y1="736.40" x2="112.40" y2="736.40" stroke="#1c1c1c" stroke-width="1.1"/>
<text transform="translate(104.80,739.60) scale(0.95,1)" x="0" y="0" font-size="10.0" text-anchor="end" font-weight="normal" fill="#2a2a2a" stroke="#2a2a2a" stroke-width="0.2">100</text>
<line x1="107.90" y1="705.80" x2="112.40" y2="705.80" stroke="#1c1c1c" stroke-width="1.1"/>
<text transform="translate(104.80,709.00) scale(0.95,1)" x="0" y="0" font-size="10.0" text-anchor="end" font-weight="normal" fill="#2a2a2a" stroke="#2a2a2a" stroke-width="0.2">1000</text>
<line x1="107.90" y1="675.20" x2="112.40" y2="675.20" stroke="#1c1c1c" stroke-width="1.1"/>
<text transform="translate(104.80,678.40) scale(0.95,1)" x="0" y="0" font-size="10.0" text-anchor="end" font-weight="normal" fill="#2a2a2a" stroke="#2a2a2a" stroke-width="0.2">10000</text>
<line x1="107.90" y1="644.60" x2="112.40" y2="644.60" stroke="#1c1c1c" stroke-width="1.1"/>
<text transform="translate(104.80,647.80) scale(0.95,1)" x="0" y="0" font-size="10.0" text-anchor="end" font-weight="normal" fill="#2a2a2a" stroke="#2a2a2a" stroke-width="0.2">100000</text>
<text transform="translate(66.70,718.50) rotate(-90)" x="0" y="0" font-size="10.9" text-anchor="middle" fill="#2a2a2a" textLength="126.0" lengthAdjust="spacingAndGlyphs" stroke="#2a2a2a" stroke-width="0.28">Copies per 100ng DNA from BM</text>
<line x1="111.90" y1="797.60" x2="462.70" y2="797.60" stroke="#1c1c1c" stroke-width="1.2"/>
<line x1="128.70" y1="797.60" x2="128.70" y2="801.60" stroke="#1c1c1c" stroke-width="1.1"/>
<text transform="translate(128.70,813.60) scale(0.91,1)" x="0" y="0" font-size="10.0" text-anchor="middle" font-weight="normal" fill="#2a2a2a" stroke="#2a2a2a" stroke-width="0.2">14</text>
<line x1="151.90" y1="797.60" x2="151.90" y2="801.60" stroke="#1c1c1c" stroke-width="1.1"/>
<text transform="translate(151.90,813.60) scale(0.91,1)" x="0" y="0" font-size="10.0" text-anchor="middle" font-weight="normal" fill="#2a2a2a" stroke="#2a2a2a" stroke-width="0.2">28</text>
<line x1="175.10" y1="797.60" x2="175.10" y2="801.60" stroke="#1c1c1c" stroke-width="1.1"/>
<text transform="translate(175.10,813.60) scale(0.91,1)" x="0" y="0" font-size="10.0" text-anchor="middle" font-weight="normal" fill="#2a2a2a" stroke="#2a2a2a" stroke-width="0.2">60</text>
<line x1="198.30" y1="797.60" x2="198.30" y2="801.60" stroke="#1c1c1c" stroke-width="1.1"/>
<text transform="translate(198.30,813.60) scale(0.91,1)" x="0" y="0" font-size="10.0" text-anchor="middle" font-weight="normal" fill="#2a2a2a" stroke="#2a2a2a" stroke-width="0.2">90</text>
<line x1="221.50" y1="797.60" x2="221.50" y2="801.60" stroke="#1c1c1c" stroke-width="1.1"/>
<text transform="translate(221.50,813.60) scale(0.91,1)" x="0" y="0" font-size="10.0" text-anchor="middle" font-weight="normal" fill="#2a2a2a" stroke="#2a2a2a" stroke-width="0.2">180</text>
<line x1="244.70" y1="797.60" x2="244.70" y2="801.60" stroke="#1c1c1c" stroke-width="1.1"/>
<text transform="translate(244.70,813.60) scale(0.91,1)" x="0" y="0" font-size="10.0" text-anchor="middle" font-weight="normal" fill="#2a2a2a" stroke="#2a2a2a" stroke-width="0.2">270</text>
<line x1="267.90" y1="797.60" x2="267.90" y2="801.60" stroke="#1c1c1c" stroke-width="1.1"/>
<text transform="translate(267.90,813.60) scale(0.91,1)" x="0" y="0" font-size="10.0" text-anchor="middle" font-weight="normal" fill="#2a2a2a" stroke="#2a2a2a" stroke-width="0.2">365</text>
<line x1="307.00" y1="797.60" x2="307.00" y2="801.60" stroke="#1c1c1c" stroke-width="1.1"/>
<text transform="translate(307.00,813.60) scale(0.91,1)" x="0" y="0" font-size="10.0" text-anchor="middle" font-weight="normal" fill="#2a2a2a" stroke="#2a2a2a" stroke-width="0.2">14</text>
<line x1="330.20" y1="797.60" x2="330.20" y2="801.60" stroke="#1c1c1c" stroke-width="1.1"/>
<text transform="translate(330.20,813.60) scale(0.91,1)" x="0" y="0" font-size="10.0" text-anchor="middle" font-weight="normal" fill="#2a2a2a" stroke="#2a2a2a" stroke-width="0.2">28</text>
<line x1="353.40" y1="797.60" x2="353.40" y2="801.60" stroke="#1c1c1c" stroke-width="1.1"/>
<text transform="translate(353.40,813.60) scale(0.91,1)" x="0" y="0" font-size="10.0" text-anchor="middle" font-weight="normal" fill="#2a2a2a" stroke="#2a2a2a" stroke-width="0.2">60</text>
<line x1="376.60" y1="797.60" x2="376.60" y2="801.60" stroke="#1c1c1c" stroke-width="1.1"/>
<text transform="translate(376.60,813.60) scale(0.91,1)" x="0" y="0" font-size="10.0" text-anchor="middle" font-weight="normal" fill="#2a2a2a" stroke="#2a2a2a" stroke-width="0.2">90</text>
<line x1="399.80" y1="797.60" x2="399.80" y2="801.60" stroke="#1c1c1c" stroke-width="1.1"/>
<text transform="translate(399.80,813.60) scale(0.91,1)" x="0" y="0" font-size="10.0" text-anchor="middle" font-weight="normal" fill="#2a2a2a" stroke="#2a2a2a" stroke-width="0.2">180</text>
<line x1="423.00" y1="797.60" x2="423.00" y2="801.60" stroke="#1c1c1c" stroke-width="1.1"/>
<text transform="translate(423.00,813.60) scale(0.91,1)" x="0" y="0" font-size="10.0" text-anchor="middle" font-weight="normal" fill="#2a2a2a" stroke="#2a2a2a" stroke-width="0.2">270</text>
<line x1="446.20" y1="797.60" x2="446.20" y2="801.60" stroke="#1c1c1c" stroke-width="1.1"/>
<text transform="translate(446.20,813.60) scale(0.91,1)" x="0" y="0" font-size="10.0" text-anchor="middle" font-weight="normal" fill="#2a2a2a" stroke="#2a2a2a" stroke-width="0.2">365</text>
<line x1="287.30" y1="645.40" x2="287.30" y2="797.60" stroke="#3c3c3c" stroke-width="1.3"/>
<text x="197.50" y="652.30" font-size="9.7" text-anchor="middle" font-weight="normal" fill="#2a2a2a" textLength="102.0" lengthAdjust="spacingAndGlyphs" stroke="#2a2a2a" stroke-width="0.15">CD19-CAR-Retro_ALLO</text>
<text x="376.20" y="652.30" font-size="9.7" text-anchor="middle" font-weight="normal" fill="#2a2a2a" textLength="99.4" lengthAdjust="spacingAndGlyphs" stroke="#2a2a2a" stroke-width="0.15">CD19-CAR-Lenti_ALLO</text>
<text x="287.90" y="830.00" font-size="11.4" text-anchor="middle" font-weight="normal" fill="#2a2a2a" textLength="72.8" lengthAdjust="spacingAndGlyphs" stroke="#2a2a2a" stroke-width="0.28">Days post-infusion</text>
<rect x="122.10" y="733.70" width="13.20" height="63.90" fill="#c60326"/>
<rect x="145.30" y="712.90" width="13.20" height="84.70" fill="#c60326"/>
<rect x="191.70" y="713.20" width="13.20" height="84.40" fill="#c60326"/>
<line x1="128.70" y1="724.00" x2="128.70" y2="797.60" stroke="#1e1e1e" stroke-width="1.15"/>
<line x1="128.65" y1="724.00" x2="128.75" y2="724.00" stroke="#1e1e1e" stroke-width="1.38"/>
<ellipse cx="128.70" cy="724.00" rx="5.0" ry="3.1" fill="#111"/>
<ellipse cx="128.70" cy="770.30" rx="5.0" ry="3.1" fill="#111"/>
<ellipse cx="151.90" cy="711.60" rx="5.0" ry="3.1" fill="#111"/>
<ellipse cx="198.30" cy="712.00" rx="5.0" ry="3.1" fill="#111"/>
<rect x="300.40" y="666.60" width="13.20" height="131.00" fill="#114a86"/>
<line x1="307.00" y1="653.50" x2="307.00" y2="797.60" stroke="#1e1e1e" stroke-width="1.15"/>
<line x1="303.75" y1="653.50" x2="310.25" y2="653.50" stroke="#1e1e1e" stroke-width="1.38"/>
<rect x="323.60" y="695.00" width="13.20" height="102.60" fill="#114a86"/>
<line x1="330.20" y1="677.30" x2="330.20" y2="797.60" stroke="#1e1e1e" stroke-width="1.15"/>
<line x1="326.95" y1="677.30" x2="333.45" y2="677.30" stroke="#1e1e1e" stroke-width="1.38"/>
<rect x="346.80" y="723.50" width="13.20" height="74.10" fill="#114a86"/>
<line x1="353.40" y1="707.70" x2="353.40" y2="797.60" stroke="#1e1e1e" stroke-width="1.15"/>
<line x1="350.15" y1="707.70" x2="356.65" y2="707.70" stroke="#1e1e1e" stroke-width="1.38"/>
<rect x="370.00" y="708.40" width="13.20" height="89.20" fill="#114a86"/>
<line x1="376.60" y1="700.40" x2="376.60" y2="797.60" stroke="#1e1e1e" stroke-width="1.15"/>
<line x1="373.35" y1="700.40" x2="379.85" y2="700.40" stroke="#1e1e1e" stroke-width="1.38"/>
<rect x="393.20" y="741.30" width="13.20" height="56.30" fill="#114a86"/>
<line x1="399.80" y1="726.50" x2="399.80" y2="797.60" stroke="#1e1e1e" stroke-width="1.15"/>
<line x1="396.55" y1="726.50" x2="403.05" y2="726.50" stroke="#1e1e1e" stroke-width="1.38"/>
<rect x="416.40" y="730.40" width="13.20" height="67.20" fill="#114a86"/>
<line x1="423.00" y1="720.80" x2="423.00" y2="797.60" stroke="#1e1e1e" stroke-width="1.15"/>
<line x1="419.75" y1="720.80" x2="426.25" y2="720.80" stroke="#1e1e1e" stroke-width="1.38"/>
<ellipse cx="306.80" cy="646.00" rx="5.0" ry="3.0" fill="#111"/>
<ellipse cx="303.00" cy="659.50" rx="5.0" ry="3.0" fill="#111"/>
<ellipse cx="310.50" cy="657.00" rx="5.0" ry="3.0" fill="#111"/>
<ellipse cx="303.00" cy="676.80" rx="5.0" ry="3.0" fill="#111"/>
<ellipse cx="310.50" cy="676.80" rx="5.0" ry="3.0" fill="#111"/>
<ellipse cx="303.00" cy="691.00" rx="5.0" ry="3.0" fill="#111"/>
<ellipse cx="310.50" cy="689.50" rx="5.0" ry="3.0" fill="#111"/>
<ellipse cx="307.00" cy="721.60" rx="5.0" ry="3.0" fill="#111"/>
<ellipse cx="307.00" cy="779.30" rx="5.0" ry="3.0" fill="#111"/>
<ellipse cx="329.90" cy="666.00" rx="5.0" ry="3.0" fill="#111"/>
<ellipse cx="329.90" cy="695.10" rx="5.0" ry="3.0" fill="#111"/>
<ellipse cx="329.90" cy="702.90" rx="5.0" ry="3.0" fill="#111"/>
<ellipse cx="324.50" cy="711.20" rx="5.0" ry="3.0" fill="#111"/>
<ellipse cx="335.00" cy="711.20" rx="5.0" ry="3.0" fill="#111"/>
<ellipse cx="329.90" cy="711.20" rx="5.0" ry="3.0" fill="#111"/>
<ellipse cx="329.90" cy="723.10" rx="5.0" ry="3.0" fill="#111"/>
<ellipse cx="324.50" cy="742.10" rx="5.0" ry="3.0" fill="#111"/>
<ellipse cx="335.00" cy="746.30" rx="5.0" ry="3.0" fill="#111"/>
<ellipse cx="324.50" cy="750.50" rx="5.0" ry="3.0" fill="#111"/>
<ellipse cx="353.20" cy="697.80" rx="5.0" ry="3.0" fill="#111"/>
<ellipse cx="349.00" cy="728.00" rx="5.0" ry="3.0" fill="#111"/>
<ellipse cx="353.20" cy="725.50" rx="5.0" ry="3.0" fill="#111"/>
<ellipse cx="357.50" cy="727.50" rx="5.0" ry="3.0" fill="#111"/>
<ellipse cx="351.00" cy="746.50" rx="5.0" ry="3.0" fill="#111"/>
<ellipse cx="356.00" cy="745.50" rx="5.0" ry="3.0" fill="#111"/>
<ellipse cx="351.00" cy="754.50" rx="5.0" ry="3.0" fill="#111"/>
<ellipse cx="355.50" cy="752.00" rx="5.0" ry="3.0" fill="#111"/>
<ellipse cx="353.20" cy="786.20" rx="5.0" ry="3.0" fill="#111"/>
<ellipse cx="376.50" cy="685.80" rx="5.0" ry="3.0" fill="#111"/>
<ellipse cx="376.50" cy="697.10" rx="5.0" ry="3.0" fill="#111"/>
<ellipse cx="372.00" cy="730.00" rx="5.0" ry="3.0" fill="#111"/>
<ellipse cx="376.50" cy="727.50" rx="5.0" ry="3.0" fill="#111"/>
<ellipse cx="381.00" cy="731.00" rx="5.0" ry="3.0" fill="#111"/>
<ellipse cx="380.50" cy="747.10" rx="5.0" ry="3.0" fill="#111"/>
<ellipse cx="372.50" cy="752.60" rx="5.0" ry="3.0" fill="#111"/>
<ellipse cx="377.00" cy="750.00" rx="5.0" ry="3.0" fill="#111"/>
<ellipse cx="399.80" cy="726.50" rx="5.0" ry="3.0" fill="#111"/>
<ellipse cx="399.80" cy="758.80" rx="5.0" ry="3.0" fill="#111"/>
<ellipse cx="423.00" cy="720.80" rx="5.0" ry="3.0" fill="#111"/>
<ellipse cx="423.00" cy="753.50" rx="5.0" ry="3.0" fill="#111"/>
<ellipse cx="446.30" cy="797.50" rx="5.0" ry="3.0" fill="#111"/>
</svg>
</body></html>
